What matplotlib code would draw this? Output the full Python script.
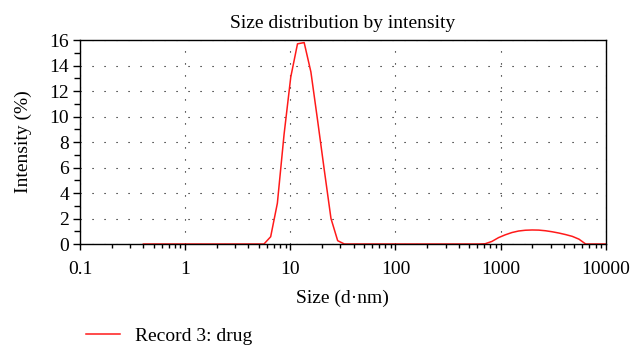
import matplotlib
matplotlib.use("Agg")
import matplotlib.pyplot as plt
from matplotlib.ticker import MultipleLocator, NullFormatter

plt.rcParams['font.family'] = ['Liberation Serif', 'DejaVu Serif']

# size bins (d.nm) and intensity (%) for record 3
sizes = [0.4, 0.4632, 0.5365, 0.6213, 0.7195, 0.8332, 0.9649, 1.117, 1.294, 1.499,
         1.736, 2.010, 2.328, 2.696, 3.122, 3.615, 4.187, 4.849, 5.615, 6.503,
         7.531, 8.721, 10.10, 11.70, 13.54, 15.69, 18.17, 21.04, 24.36, 28.21,
         32.67, 37.84, 43.82, 50.75, 58.77, 68.06, 78.82, 91.28, 105.7, 122.4,
         141.8, 164.2, 190.1, 220.2, 255.0, 295.3, 342.0, 396.1, 458.7, 531.2,
         615.1, 712.4, 825.0, 955.4, 1106, 1281, 1484, 1718, 1990, 2305,
         2669, 3091, 3580, 4145, 4801, 5560, 6439, 7456, 8635, 10000]
intensity = [0, 0, 0, 0, 0, 0, 0, 0, 0, 0,
             0, 0, 0, 0, 0, 0, 0, 0, 0, 0.57,
             3.2, 8.6, 13.1, 15.7, 15.8, 13.5, 9.7, 5.8, 2.0, 0.26,
             0, 0, 0, 0, 0, 0, 0, 0, 0, 0,
             0, 0, 0, 0, 0, 0, 0, 0, 0, 0,
             0, 0.02, 0.2, 0.5, 0.72, 0.9, 1.02, 1.08, 1.1, 1.09,
             1.04, 0.96, 0.86, 0.74, 0.6, 0.38, 0, 0, 0, 0]

x_ticks = [0.1, 1, 10, 100, 1000, 10000]
x_labels = ["0.1", "1", "10", "100", "1000", "10000"]

fig = plt.figure(figsize=(6.33, 3.52), dpi=100)
ax = fig.add_axes([0.1264, 0.3068, 0.8306, 0.5795])

line, = ax.plot(sizes, intensity, color='#ff1a1a', lw=1.1, label="Record 3: drug")

ax.set_xscale('log')
ax.set_xlim(0.1, 10000)
ax.set_ylim(0, 16)
ax.set_xticks(x_ticks)
ax.set_xticklabels(x_labels)
ax.xaxis.set_minor_formatter(NullFormatter())
ax.yaxis.set_major_locator(MultipleLocator(2))
ax.yaxis.set_minor_locator(MultipleLocator(1))

ax.tick_params(axis='both', which='major', direction='out', labelsize=14, color='k')
ax.tick_params(axis='y', which='major', length=5, width=1, pad=3)
ax.tick_params(axis='y', which='minor', length=4, width=1)
ax.tick_params(axis='x', which='major', length=4, width=1, pad=8)
ax.tick_params(axis='x', which='minor', length=3, width=1)

for s in ax.spines.values():
    s.set_linewidth(1.0)

ax.grid(True, which='major', color='k', lw=0.8, linestyle=(0, (1, 9.8)))

ax.set_title("Size distribution by intensity", fontsize=14, pad=9)
ax.set_xlabel("Size (d\u00b7nm)", fontsize=14, labelpad=9)
ax.set_ylabel("Intensity (%)", fontsize=14, labelpad=12)

fig.legend(handles=[line], loc='lower left', bbox_to_anchor=(0.108, -0.03),
           frameon=False, fontsize=14, handlelength=1.75, handletextpad=0.8)

fig.savefig("out.png", dpi=100)
